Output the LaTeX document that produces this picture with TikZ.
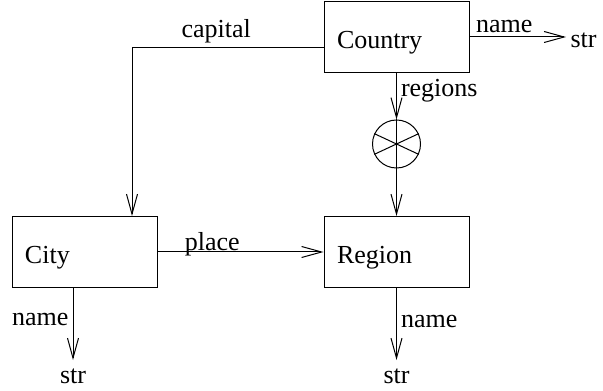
\documentclass[tikz,border=0pt]{standalone}
\usepackage{fontspec}
\setmainfont{Liberation Serif}
\usepackage{tikz}
\usetikzlibrary{arrows.meta}

\begin{document}
\begin{tikzpicture}[x=0.5pt, y=0.5pt, line width=0.5pt,
  >={Straight Barb[length=10pt, width=5.5pt]},
  every node/.style={font=\fontsize{13pt}{15pt}\selectfont},
  entity/.style={draw, rectangle, minimum height=35.5pt, text width=59.5pt,
    inner xsep=6.5pt, align=left, text height=11.5pt, text depth=0pt},
  mux/.style={draw, circle, minimum size=24pt, inner sep=0pt},
  lbl/.style={inner sep=2pt},
  type/.style={inner xsep=2pt, inner ysep=4pt}]

  \useasboundingbox (0,0) rectangle (603,390);

  \node[entity] (Co) at (396.5,353) {Country};
  \node[entity] (Re) [below of=Co, node distance=107.5pt] {Region};
  \node[entity] (Ci) [left of=Re, node distance=156pt] {City};
  \node[mux]    (X)  [below of=Co, node distance=53.5pt] {};

  \node[type, anchor=west, yshift=-1.5pt] (S_1) at (566,353) {str};
  \node[type, anchor=north] (S_2) at (73,30) {str};
  \node[type, anchor=north] (S_3) at (396.5,30) {str};

  \coordinate (K) at (132,342);

  \path[->] (Co.east) edge node[lbl, above, pos=0.36] {name} (Co.east -| S_1.west)
        (Co.south) edge node[lbl, right, pos=0.375] {regions} (X.north)
        (X.north) edge (Re.north)
        (Ci.east) edge node[lbl, anchor=base, pos=0.33, yshift=0.5pt] {place} (Re.west)
        (Ci.south -| S_2.north) edge node[lbl, left, pos=0.44] {name} (S_2.north)
        (Re.south) edge node[lbl, right, pos=0.47] {name} (S_3.north)
        ;
  \draw[->] (K -| Co.west) -| node[lbl, above, pos=0.28] {capital} (Ci.north -| K);
  \draw (X.155) -- (X.-25) (X.205) -- (X.25);

\end{tikzpicture}
\end{document}
